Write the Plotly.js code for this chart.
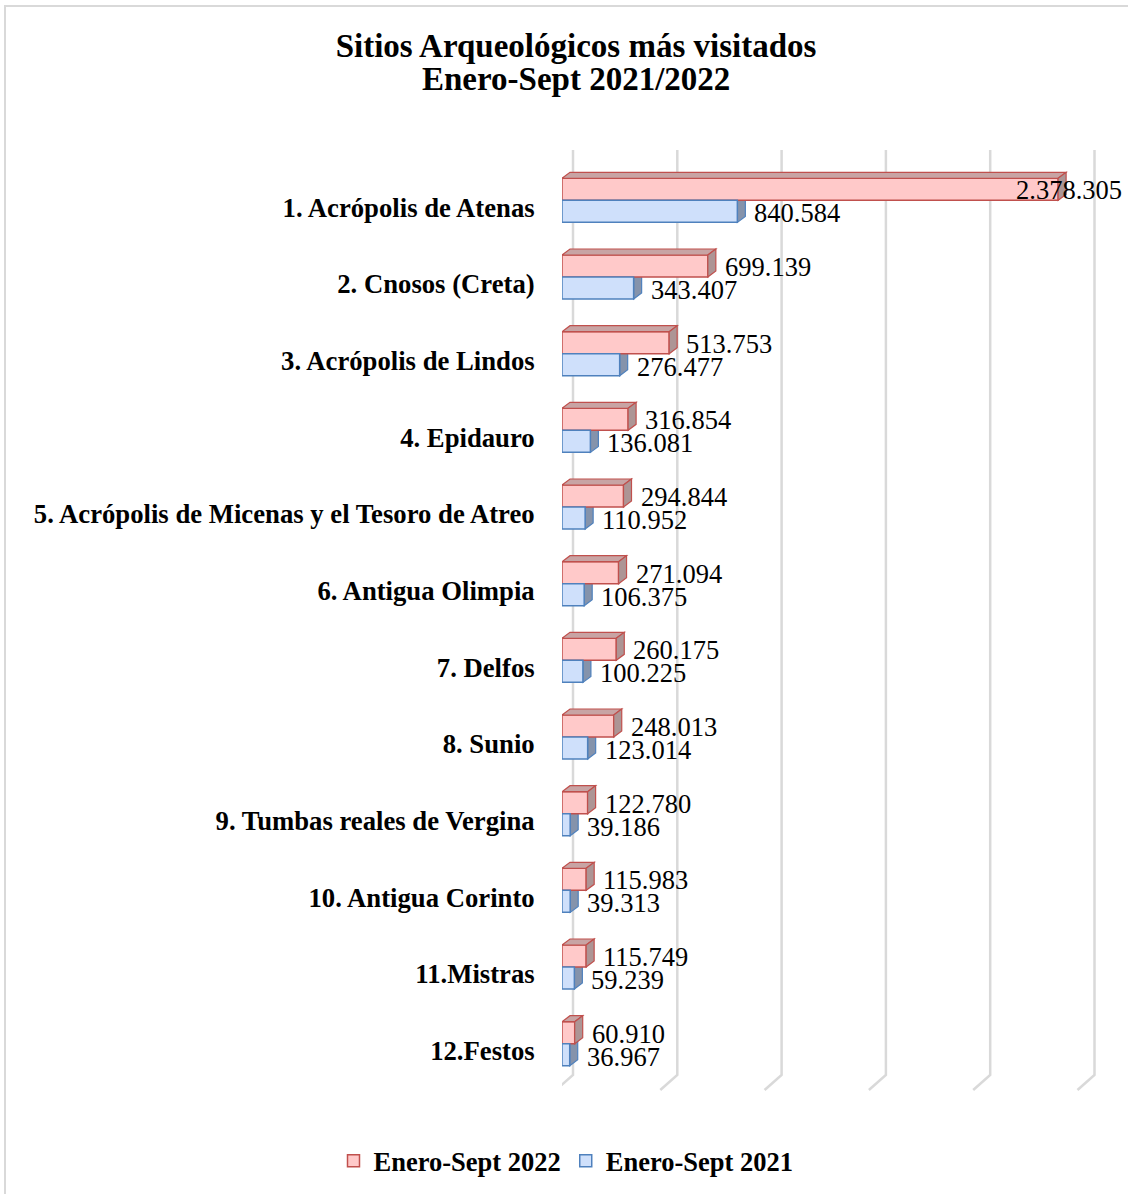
<!DOCTYPE html>
<html>
<head>
<meta charset="utf-8">
<script src="https://cdn.plot.ly/plotly-3.0.1.min.js"></script>
<style>
html,body{margin:0;padding:0;overflow:hidden;background:#fff;}
#wrap{position:relative;width:1128px;height:1194px;}
#chart{position:absolute;left:0;top:0;width:1128px;height:1194px;}
#frame{position:absolute;left:4px;top:5px;width:1140px;height:1210px;border:2px solid #d9d9d9;pointer-events:none;box-sizing:border-box;}
</style>
</head>
<body>
<div id="wrap"><div id="chart"></div><div id="frame"></div></div>
<script>
const titleLines = ["Sitios Arqueológicos más visitados","Enero-Sept 2021/2022"];
const categories = ["1. Acrópolis de Atenas","2. Cnosos (Creta)","3. Acrópolis de Lindos","4. Epidauro","5. Acrópolis de Micenas y el Tesoro de Atreo","6. Antigua Olimpia","7. Delfos","8. Sunio","9. Tumbas reales de Vergina","10. Antigua Corinto","11.Mistras","12.Festos"];
const visits2022 = [2378305,699139,513753,316854,294844,271094,260175,248013,122780,115983,115749,60910];
const visits2021 = [840584,343407,276477,136081,110952,106375,100225,123014,39186,39313,59239,36967];
const seriesNames = ["Enero-Sept 2022","Enero-Sept 2021"];
const gridValues = [0,500000,1000000,1500000,2000000,2500000];

const W = 1128, H = 1194;
const M = {l:562, r:24, t:169, b:105};
const plotW = W - M.l - M.r, plotH = H - M.t - M.b;
const pxPerUnit = 521.5 / 2500000;
const xMax = plotW / pxPerUnit;
const rowPx = plotH / categories.length;
const barW = 0.287;
const offRed = -0.378, offBlue = -0.091;
const barPx = barW * rowPx;
const DX = 8, DY = 6;
const dxData = DX / pxPerUnit;
const serif = '"Liberation Serif", "Times New Roman", Times, serif';

function fmt(v){ return String(v).replace(/\B(?=(\d{3})+(?!\d))/g, '.'); }

const redFill = '#ffc9c9', redLine = '#c0504d', redTop = '#c8a4a4', redSide = '#ad9595';
const blueFill = '#cfe0fb', blueLine = '#4f81bd', blueSide = '#8593ab';

const traces = [
  {type:'bar', orientation:'h', name:seriesNames[0], y:categories, x:visits2022,
   offset:offRed, width:barW, marker:{color:redFill, line:{color:redLine, width:1.5}}, hoverinfo:'none'},
  {type:'bar', orientation:'h', name:seriesNames[1], y:categories, x:visits2021,
   offset:offBlue, width:barW, marker:{color:blueFill, line:{color:blueLine, width:1.5}}, hoverinfo:'none'}
];

const shapes = [];
const pTop = (M.t + plotH - 150) / plotH;
const pBack = (M.t + plotH - 1075) / plotH;
const pFront = (M.t + plotH - 1090) / plotH;
gridValues.forEach(g => {
  shapes.push({type:'path', xref:'x', yref:'paper', xsizemode:'pixel', xanchor:g,
    path:`M 11,${pTop} L 11,${pBack} L -6,${pFront}`, line:{color:'#d9d9d9', width:2.5}, layer:'below'});
});
shapes.push({type:'line', xref:'x', yref:'paper', xsizemode:'pixel', xanchor:0,
  x0:-3, x1:-3, y0:0.005, y1:1.0, line:{color:'rgba(0,0,0,0.13)', width:5}, layer:'below'});

categories.forEach((c, i) => {
  const r = visits2022[i], b = visits2021[i];
  shapes.push({type:'path', xref:'x', yref:'y', xsizemode:'pixel', xanchor:b, ysizemode:'pixel', yanchor:i+offBlue,
    path:`M 0,0 L ${DX},${DY} L ${DX},${DY-barPx} L 0,${-barPx} Z`,
    fillcolor:blueSide, line:{color:blueLine, width:1.2}, layer:'below'});
  shapes.push({type:'path', xref:'x', yref:'y', ysizemode:'pixel', yanchor:i+offRed,
    path:`M 0,0 L ${r},0 L ${r+dxData},${DY} L ${dxData},${DY} Z`,
    fillcolor:redTop, line:{color:redLine, width:1.2}, layer:'above'});
  shapes.push({type:'path', xref:'x', yref:'y', xsizemode:'pixel', xanchor:r, ysizemode:'pixel', yanchor:i+offRed,
    path:`M 0,0 L ${DX},${DY} L ${DX},${DY-barPx} L 0,${-barPx} Z`,
    fillcolor:redSide, line:{color:redLine, width:1.2}, layer:'above'});
});

const labelFont = {family:serif, size:26.5, color:'#000'};
const annotations = [];
categories.forEach((c, i) => {
  const r = visits2022[i], b = visits2021[i];
  const big = r > 2000000;
  annotations.push({x:r, y:c, xref:'x', yref:'y', text:fmt(r), showarrow:false,
    xanchor: big ? 'right' : 'left', xshift: big ? 66 : 15, yshift:17, font:labelFont});
  annotations.push({x:b, y:c, xref:'x', yref:'y', text:fmt(b), showarrow:false,
    xanchor:'left', xshift:15, yshift:-6, font:labelFont});
});
// second title line
const titleCx = 576;
annotations.push({xref:'paper', yref:'paper', x:(titleCx - M.l)/plotW, y:(M.t + plotH - 79)/plotH,
  xanchor:'center', yanchor:'middle', showarrow:false, text:'<b>'+titleLines[1]+'</b>',
  font:{family:serif, size:33, color:'#000'}});

const layout = {
  width:W, height:H,
  margin:M,
  font:{family:serif},
  paper_bgcolor:'#fff', plot_bgcolor:'rgba(0,0,0,0)',
  barmode:'overlay',
  showlegend:true,
  title:{text:'<b>'+titleLines[0]+'</b>',
    xref:'container', yref:'container',
    x:titleCx/W, xanchor:'center', y:1-45/H, yanchor:'middle',
    font:{family:serif, size:33, color:'#000'}},
  xaxis:{range:[0,xMax], showgrid:false, zeroline:false, showline:false, showticklabels:false, ticks:''},
  yaxis:{type:'category', categoryarray:categories, categoryorder:'array', range:[categories.length-0.5,-0.5],
    showgrid:false, zeroline:false, showline:false, ticks:'outside', ticklen:21, tickcolor:'rgba(0,0,0,0)',
    tickfont:{family:serif, size:26.7, color:'#000', weight:'bold'}},
  legend:{orientation:'h', xref:'container', yref:'container', x:566/W, xanchor:'center', y:1-1161/H, yanchor:'middle',
    font:{family:serif, size:26.5, color:'#000', weight:'bold'}, itemwidth:30, traceorder:'normal'},
  shapes:shapes,
  annotations:annotations
};

Plotly.newPlot('chart', traces, layout, {displayModeBar:false, staticPlot:true});
</script>
</body>
</html>
